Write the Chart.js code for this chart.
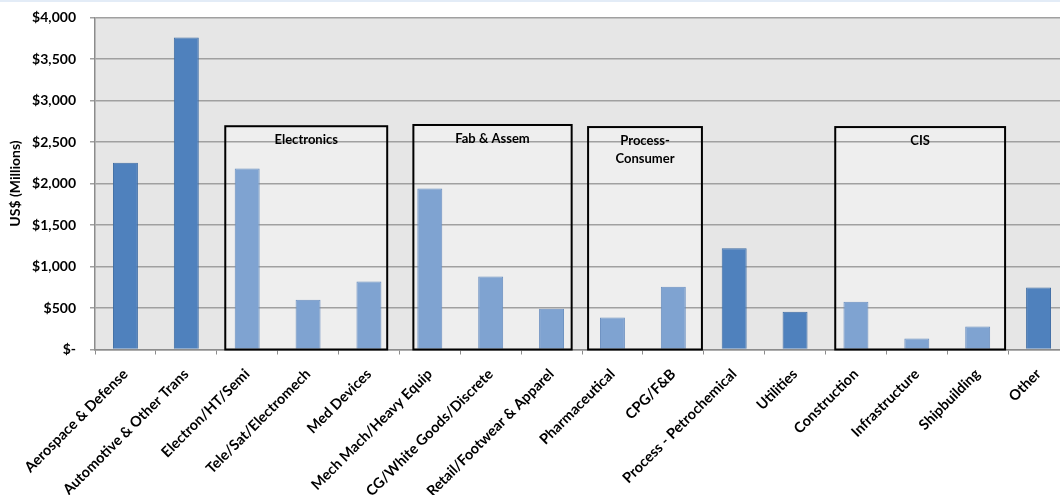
<!DOCTYPE html>
<html>
<head>
<meta charset="utf-8">
<script src="https://cdn.jsdelivr.net/npm/chart.js@4.4.1/dist/chart.umd.min.js"></script>
<style>
  html, body { margin: 0; padding: 0; background: #fff; overflow: hidden; }
  .strip { position: absolute; left: 0; top: 0; width: 1060px; height: 2px; background: #e3ecf7; }
  .wrap { position: absolute; left: 0; top: 0; width: 1060px; height: 495px; overflow: hidden; }
  .inner { width: 1075px; height: 495px; }
</style>
</head>
<body>
<div class="wrap"><div class="inner"><canvas id="spendChart" width="1075" height="495"></canvas></div></div>
<div class="strip"></div>
<script>
let categories = ["Aerospace & Defense", "Automotive & Other Trans", "Electron/HT/Semi",
                  "Tele/Sat/Electromech", "Med Devices", "Mech Mach/Heavy Equip",
                  "CG/White Goods/Discrete", "Retail/Footwear & Apparel", "Pharmaceutical",
                  "CPG/F&B", "Process - Petrochemical", "Utilities", "Construction",
                  "Infrastructure", "Shipbuilding", "Other"];
let spend = [2250, 3760, 2180, 600, 820, 1940, 880, 490, 385, 755, 1220, 455, 575, 132, 276, 747];
let yTicks = [0, 500, 1000, 1500, 2000, 2500, 3000, 3500, 4000];

// segment boxes: first/last category inside, box edges in category units, top in US$
let groups = [
    { label: ["Electronics"], first: 2, last: 4, from: 1.64, to: 4.30, top: 2690 },
    { label: ["Fab & Assem"], first: 5, last: 7, from: 4.73, to: 7.33, top: 2705 },
    { label: ["Process-", "Consumer"], first: 8, last: 9, from: 7.60, to: 9.47, top: 2680 },
    { label: ["CIS"], first: 12, last: 14, from: 11.66, to: 14.45, top: 2680 }
];

const DARK = '#4f81bd', DARK_EDGE = '#3e6ca4';
const LIGHT = '#7fa3d1', LIGHT_EDGE = '#6a8fc0';
const FONT = 'Lato, "Open Sans", sans-serif';

function inGroup(i) {
    for (let g of groups) {
        if (i >= g.first && i <= g.last) return true;
    }
    return false;
}

function catPixel(scale, v) {
    const step = (scale.right - scale.left) / categories.length;
    return scale.left + (v + 0.5) * step;
}

const plotBackground = {
    id: 'plotBackground',
    beforeDraw(chart) {
        const ctx = chart.ctx, a = chart.chartArea;
        const x = chart.scales.x, y = chart.scales.y;
        ctx.save();
        ctx.fillStyle = '#e6e6e6';
        ctx.fillRect(a.left, a.top, a.right - a.left, a.bottom - a.top);
        ctx.fillStyle = '#eeeeee';
        for (let g of groups) {
            const l = catPixel(x, g.from), r = catPixel(x, g.to), t = y.getPixelForValue(g.top);
            ctx.fillRect(l, t, r - l, a.bottom - t);
        }
        ctx.restore();
    }
};

const groupBoxes = {
    id: 'groupBoxes',
    afterDatasetsDraw(chart) {
        const ctx = chart.ctx, a = chart.chartArea;
        const x = chart.scales.x, y = chart.scales.y;
        ctx.save();
        ctx.strokeStyle = '#000';
        ctx.lineWidth = 2;
        ctx.fillStyle = '#000';
        ctx.font = 'bold 13px ' + FONT;
        ctx.textAlign = 'center';
        ctx.textBaseline = 'middle';
        for (let g of groups) {
            const l = catPixel(x, g.from), r = catPixel(x, g.to), t = y.getPixelForValue(g.top);
            ctx.strokeRect(l, t, r - l, a.bottom - t);
            g.label.forEach((line, k) => {
                ctx.fillText(line, (l + r) / 2, t + 14 + k * 18);
            });
        }
        ctx.restore();
    }
};

const ctx = document.getElementById('spendChart').getContext('2d');

new Chart(ctx, {
    type: 'bar',
    data: {
        labels: categories,
        datasets: [{
            label: 'Spend',
            data: spend,
            backgroundColor: spend.map((v, i) => inGroup(i) ? LIGHT : DARK),
            borderColor: spend.map((v, i) => inGroup(i) ? LIGHT_EDGE : DARK_EDGE),
            borderWidth: 1,
            barPercentage: 0.41,
            categoryPercentage: 1
        }]
    },
    options: {
        responsive: false,
        animation: false,
        layout: { padding: { top: 17.5, right: 6, left: 0, bottom: 0 } },
        plugins: {
            legend: { display: false },
            tooltip: { enabled: false }
        },
        scales: {
            x: {
                grid: {
                    display: true,
                    drawOnChartArea: false,
                    color: '#8c8c8c',
                    tickLength: 5
                },
                border: { color: '#8c8c8c', width: 1.5 },
                ticks: {
                    autoSkip: false,
                    minRotation: 45,
                    maxRotation: 45,
                    padding: 11,
                    color: '#000',
                    font: { family: FONT, size: 14.5, weight: 'bold' }
                },
                afterFit(scale) {
                    scale.height = 145.5;
                    scale.paddingLeft = 0;
                    scale.paddingRight = 0;
                }
            },
            y: {
                min: 0,
                max: 4000,
                afterBuildTicks(scale) {
                    scale.ticks = yTicks.map(v => ({ value: v }));
                },
                grid: {
                    color: '#a0a0a0',
                    lineWidth: 1.5,
                    tickLength: 5
                },
                border: { color: '#8c8c8c', width: 1.5 },
                ticks: {
                    padding: 14,
                    color: '#000',
                    font: { family: FONT, size: 14, weight: 'bold' },
                    callback: v => v === 0 ? '$-' : '$' + v.toLocaleString('en-US')
                },
                title: {
                    display: true,
                    text: 'US$ (Millions)',
                    color: '#000',
                    font: { family: FONT, size: 14, weight: 'bold' },
                    padding: { top: 7, bottom: 0 }
                },
                afterFit(scale) {
                    scale.width = 95;
                    scale.paddingTop = 0;
                    scale.paddingBottom = 0;
                }
            }
        }
    },
    plugins: [plotBackground, groupBoxes]
});
</script>
</body>
</html>
